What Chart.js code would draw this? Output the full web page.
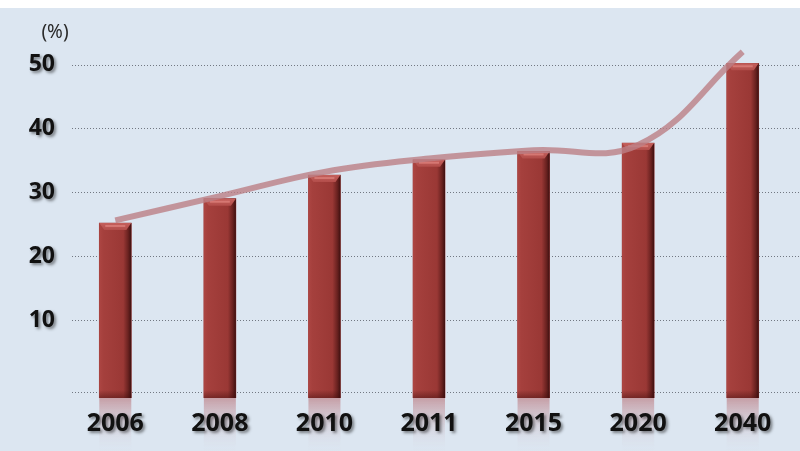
<!DOCTYPE html>
<html>
<head>
<meta charset="utf-8">
<script src="https://cdn.jsdelivr.net/npm/chart.js@4.4.1/dist/chart.umd.min.js"></script>
<style>
  html, body { margin: 0; padding: 0; background: #fff; }
  #wrap { width: 800px; height: 451px; background: linear-gradient(#fff 0, #fff 8px, #dce6f1 8px); }
</style>
</head>
<body>
<div id="wrap"><canvas id="myChart" width="800" height="451"></canvas></div>
<script>
const years = ["2006", "2008", "2010", "2011", "2015", "2020", "2040"];
const barValues = [25.2, 29.0, 32.7, 35.1, 36.4, 37.7, 50.2];
const trendValues = [25.6, 29.4, 33.2, 35.3, 36.6, 37.4, 52.0];
const yTickValues = [10, 20, 30, 40, 50];
const baseLineValue = -1.2;
const yMin = -2.2;
const yMax = 54;

// dotted gridlines, starting a bit right of the tick labels
const gridPlugin = {
  id: "dottedGrid",
  beforeDatasetsDraw(chart) {
    const ctx = chart.ctx;
    const y = chart.scales.y;
    ctx.save();
    ctx.strokeStyle = "rgba(95,100,110,0.85)";
    ctx.lineWidth = 1;
    ctx.setLineDash([1, 2]);
    [baseLineValue, ...yTickValues].forEach((v) => {
      const py = Math.round(y.getPixelForValue(v)) + 0.5;
      ctx.beginPath();
      ctx.moveTo(72, py);
      ctx.lineTo(chart.width, py);
      ctx.stroke();
    });
    ctx.restore();
  },
};

// bevel + reflection on the bars
const bevelPlugin = {
  id: "bevel",
  afterDatasetDraw(chart, args) {
    if (args.index !== 0) return;
    const ctx = chart.ctx;
    args.meta.data.forEach((bar) => {
      const { x, y, base, width } = bar.getProps(["x", "y", "base", "width"], true);
      const l = x - width / 2;
      const r = x + width / 2;

      // reflection
      const rg = ctx.createLinearGradient(0, base, 0, chart.height);
      rg.addColorStop(0, "rgba(180,100,105,0.55)");
      rg.addColorStop(1, "rgba(220,230,241,0.05)");
      ctx.fillStyle = rg;
      ctx.fillRect(l, base, width, chart.height - base);

      // body shading
      const g = ctx.createLinearGradient(l, 0, r, 0);
      g.addColorStop(0, "#ad4643");
      g.addColorStop(0.12, "#a5403d");
      g.addColorStop(0.75, "#9a3835");
      g.addColorStop(0.9, "#6a2220");
      g.addColorStop(1, "#3e1010");
      ctx.fillStyle = g;
      ctx.fillRect(l, y, width, base - y);

      // top bevel
      const tg = ctx.createLinearGradient(0, y, 0, y + 8);
      tg.addColorStop(0, "#c4605c");
      tg.addColorStop(1, "#b04b48");
      ctx.fillStyle = tg;
      ctx.beginPath();
      ctx.moveTo(l, y);
      ctx.lineTo(r, y);
      ctx.lineTo(r - 5, y + 7);
      ctx.lineTo(l + 5, y + 7);
      ctx.closePath();
      ctx.fill();
      ctx.fillStyle = "rgba(230,140,135,0.6)";
      ctx.fillRect(l + 6, y + 2, width - 12, 2);

      // darker foot
      const bg = ctx.createLinearGradient(0, base - 8, 0, base);
      bg.addColorStop(0, "rgba(60,10,10,0)");
      bg.addColorStop(1, "rgba(60,10,10,0.45)");
      ctx.fillStyle = bg;
      ctx.fillRect(l, base - 8, width, 8);
    });
  },
  afterDatasetsDraw(chart) {
    const ctx = chart.ctx;
    ctx.save();
    ctx.shadowColor = "rgba(0,0,0,0.45)";
    ctx.shadowOffsetX = 2;
    ctx.shadowOffsetY = 2;
    ctx.shadowBlur = 3;
  },
  afterDraw(chart) {
    const ctx = chart.ctx;
    ctx.restore();
    ctx.save();
    ctx.fillStyle = "#2a2a2a";
    ctx.font = '19px "Noto Sans"';
    ctx.textAlign = "center";
    ctx.textBaseline = "middle";
    ctx.fillText("(%)", 55, 33);
    ctx.restore();
  },
};

const config = {
  data: {
    labels: years,
    datasets: [
      {
        type: "bar",
        data: barValues,
        base: yMin,
        backgroundColor: "#9e3b39",
        borderWidth: 0,
        barThickness: 32,
        order: 1,
      },
      {
        type: "line",
        data: trendValues,
        borderColor: "rgba(188,128,134,0.8)",
        borderWidth: 6,
        pointRadius: 0,
        tension: 0.4,
        fill: false,
        order: 0,
      },
    ],
  },
  options: {
    responsive: false,
    animation: false,
    layout: {
      padding: { top: 39, right: 5, left: 0, bottom: 0 },
    },
    scales: {
      x: {
        grid: { display: false },
        border: { display: false },
        ticks: {
          color: "#111",
          font: { family: "Noto Sans", size: 25, weight: "bold" },
          padding: 3,
          z: 1,
        },
        afterFit: (s) => { s.height = 53; },
      },
      y: {
        min: yMin,
        max: yMax,
        grid: { display: false },
        border: { display: false },
        afterBuildTicks: (s) => { s.ticks = yTickValues.map((v) => ({ value: v })); },
        afterFit: (s) => { s.width = 63; },
        ticks: {
          color: "#111",
          font: { family: "Noto Sans", size: 23, weight: "bold" },
          padding: 0,
          z: 1,
        },
      },
    },
    plugins: {
      legend: { display: false },
      tooltip: { enabled: false },
    },
  },
  plugins: [gridPlugin, bevelPlugin],
};

const myChart = new Chart(document.getElementById("myChart"), config);
</script>
</body>
</html>
